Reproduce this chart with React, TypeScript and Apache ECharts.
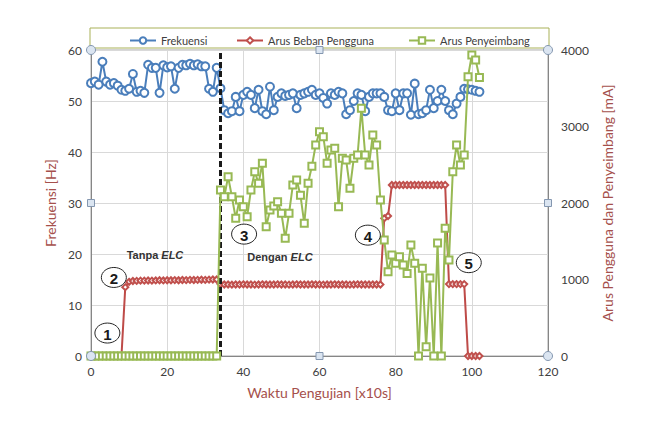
import React, { useEffect, useRef } from "react";
import * as echarts from "echarts";

// Frekuensi [Hz], one reading per 10 s step (index 0..102)
const frekuensi: number[] = [
  53.5, 53.8, 53.2, 57.7, 53.8, 53.2, 53.5, 53.0, 52.2, 52.0,
  52.4, 55.3, 51.8, 52.0, 51.6, 57.1, 56.5, 56.5, 51.6, 57.0,
  56.6, 56.8, 52.4, 56.5, 57.1, 57.0, 57.3, 57.0, 57.2, 56.8,
  56.8, 52.4, 51.8, 56.5, 52.5, 48.2, 47.6, 48.0, 50.8, 48.0,
  51.2, 51.8, 51.2, 48.6, 52.2, 48.0, 47.4, 52.8, 48.2, 50.8,
  51.5, 51.0, 51.2, 51.5, 48.6, 51.2, 51.5, 51.8, 52.2, 51.2,
  51.5, 50.6, 49.5, 51.5, 51.2, 51.8, 51.5, 47.4, 48.2, 50.0,
  51.5, 51.2, 48.0, 50.8, 51.5, 51.5, 51.5, 50.8, 48.2, 48.0,
  51.5, 48.2, 51.5, 51.5, 47.3, 53.4, 47.4, 47.6, 48.2, 52.2,
  48.6, 50.0, 52.2, 50.0, 48.2, 47.4, 49.5, 50.8, 52.4, 52.3,
  52.2, 52.0, 51.8,
];

// Arus Beban Pengguna [mA]
const arusBeban: number[] = [
  0, 0, 0, 0, 0, 0, 0, 0, 0, 900,
  970, 980, 982, 985, 985, 987, 985, 988, 990, 988,
  990, 990, 992, 990, 993, 992, 995, 993, 995, 997,
  995, 998, 1000, 1000, 940, 935, 935, 932, 935, 935,
  937, 935, 935, 933, 935, 937, 935, 935, 935, 937,
  935, 935, 933, 935, 937, 935, 935, 935, 937, 935,
  935, 933, 935, 935, 937, 935, 935, 935, 933, 935,
  937, 935, 935, 935, 935, 935, 935, 1800, 1830, 2235,
  2235, 2235, 2235, 2235, 2235, 2235, 2235, 2235, 2235, 2235,
  2235, 2235, 2235, 2235, 940, 940, 940, 940, 940, 0,
  0, 0, 0,
];

// Arus Penyeimbang [mA]
const arusPenyeimbang: number[] = [
  0, 0, 0, 0, 0, 0, 0, 0, 0, 0,
  0, 0, 0, 0, 0, 0, 0, 0, 0, 0,
  0, 0, 0, 0, 0, 0, 0, 0, 0, 0,
  0, 0, 0, 0, 2170, 2082, 2344, 2082, 1800, 2039,
  1952, 1821, 2170, 2409, 2257, 2519, 1690, 1908, 1960, 2017,
  1865, 1538, 1865, 2235, 2300, 2100, 1734, 2257, 2480, 2758,
  2932, 2867, 2519, 2693, 2715, 1952, 2584, 2562, 2192, 2584,
  2627, 3237, 2627, 2497, 2889, 2758, 2039, 1517, 1102, 1320,
  1212, 1298, 1190, 1080, 1451, 1212, 0, 1146, 122, 1020,
  0, 1477, 0, 1669, 1255, 2409, 2758, 2497, 2627, 3650,
  3935, 3870, 3640,
];

const namaSeri = ["Frekuensi", "Arus Beban Pengguna", "Arus Penyeimbang"];

// Boundary between the runs without and with the ELC
const batasELC = 34;

// Numbered markers and captions, in [waktu, Hz] coordinates
const penanda = [
  { teks: "1", waktu: 4.3, hz: 4.5 },
  { teks: "2", waktu: 6.0, hz: 15.4 },
  { teks: "3", waktu: 40.2, hz: 23.9 },
  { teks: "4", waktu: 72.7, hz: 23.7 },
  { teks: "5", waktu: 99.2, hz: 18.3 },
];
const keterangan = [
  { teks: "Tanpa {i|ELC}", waktu: 16.8, hz: 19.8 },
  { teks: "Dengan {i|ELC}", waktu: 49.6, hz: 19.4 },
];

const GRID = { left: 91, right: 100, top: 50, bottom: 66 };
const W = 648;
const H = 422;
const TITLE_COLOR = "#a5504c";
const LABEL_COLOR = "#404040";
const FONT = "Lato";
const LEGEND_LEFT = [124, 231, 403];

export default function App() {
  const ref = useRef<HTMLDivElement>(null);

  useEffect(() => {
    const chart = echarts.init(ref.current!, null, { renderer: "svg" });
    const pairs = (arr: number[]) => arr.map((v, i) => [i, v]);

    chart.setOption({
      animation: false,
      backgroundColor: "#ffffff",
      textStyle: { fontFamily: FONT },
      grid: { ...GRID, show: true, borderColor: "#a6a6a6", borderWidth: 1 },
      legend: namaSeri.map((nama, i) => ({
        top: 30,
        left: LEGEND_LEFT[i],
        itemWidth: 26,
        itemHeight: 8,
        itemGap: 0,
        textStyle: { fontSize: 11, color: LABEL_COLOR, fontFamily: FONT },
        data: [nama],
      })),
      xAxis: {
        type: "value",
        min: 0,
        max: 120,
        interval: 20,
        name: "Waktu Pengujian [x10s]",
        nameLocation: "middle",
        nameGap: 29,
        nameTextStyle: { color: TITLE_COLOR, fontSize: 14, fontFamily: FONT },
        axisLine: { lineStyle: { color: "#868686" } },
        axisTick: { show: false },
        axisLabel: { color: LABEL_COLOR, fontSize: 12, margin: 9 },
        splitLine: { lineStyle: { color: "#d9d9d9" } },
      },
      yAxis: [
        {
          type: "value",
          min: 0,
          max: 60,
          interval: 10,
          name: "Frekuensi [Hz]",
          nameLocation: "middle",
          nameGap: 14,
          nameRotate: 90,
          nameTextStyle: { color: TITLE_COLOR, fontSize: 14, fontFamily: FONT },
          axisLine: { show: true, lineStyle: { color: "#868686" } },
          axisTick: { show: false },
          axisLabel: { color: LABEL_COLOR, fontSize: 12, margin: 9 },
          splitLine: { lineStyle: { color: "#d9d9d9" } },
        },
        {
          type: "value",
          min: 0,
          max: 4000,
          interval: 1000,
          position: "right",
          name: "Arus Pengguna dan Penyeimbang [mA]",
          nameLocation: "middle",
          nameGap: 52,
          nameRotate: 90,
          nameTextStyle: { color: TITLE_COLOR, fontSize: 14, fontFamily: FONT },
          axisLine: { show: true, lineStyle: { color: "#868686" } },
          axisTick: { show: false },
          axisLabel: {
            color: LABEL_COLOR,
            fontSize: 12,
            margin: 13,
            formatter: (v: number) => String(v),
          },
          splitLine: { show: false },
        },
      ],
      series: [
        {
          name: namaSeri[0],
          type: "line",
          yAxisIndex: 0,
          data: pairs(frekuensi),
          symbol: "emptyCircle",
          symbolSize: 8,
          itemStyle: { color: "#4a7ebb", borderWidth: 1 },
          lineStyle: { color: "#4a7ebb", width: 2 },
          z: 3,
          markLine: {
            silent: true,
            symbol: "none",
            label: { show: false },
            lineStyle: { color: "#1a1a1a", type: [6, 3], width: 3 },
            data: [{ xAxis: batasELC }],
          },
        },
        {
          name: namaSeri[1],
          type: "line",
          yAxisIndex: 1,
          data: pairs(arusBeban),
          symbol: "emptyDiamond",
          symbolSize: 6,
          itemStyle: { color: "#c0504d", borderWidth: 1 },
          lineStyle: { color: "#be4b48", width: 2 },
          z: 4,
        },
        {
          name: namaSeri[2],
          type: "line",
          yAxisIndex: 1,
          data: pairs(arusPenyeimbang),
          symbol: "emptyRect",
          symbolSize: 7,
          itemStyle: { color: "#98b954", borderWidth: 1 },
          lineStyle: { color: "#98b954", width: 2 },
          z: 5,
        },
      ],
    });

    // Annotations and plot-area frame decorations
    const px = (x: number, y: number) =>
      chart.convertToPixel({ xAxisIndex: 0, yAxisIndex: 0 }, [x, y]) as number[];

    const l = GRID.left;
    const r = W - GRID.right;
    const t = GRID.top;
    const b = H - GRID.bottom;
    const mx = (l + r) / 2;
    const my = (t + b) / 2;

    const handleStyle = { fill: "#dbe5f1", stroke: "#8497b0", lineWidth: 1 };
    const circles = [
      [l, t],
      [r, t],
      [l, b],
      [r, b],
    ].map(([cx, cy]) => ({
      type: "circle",
      shape: { cx, cy, r: 4.5 },
      style: handleStyle,
      z: 100,
    }));
    const squares = [
      [mx, t],
      [l, my],
      [r, my],
      [mx, b],
    ].map(([cx, cy]) => ({
      type: "rect",
      shape: { x: cx - 3.5, y: cy - 3.5, width: 7, height: 7 },
      style: handleStyle,
      z: 100,
    }));

    const markers = penanda.flatMap((p) => {
      const [cx, cy] = px(p.waktu, p.hz);
      return [
        {
          type: "ellipse",
          shape: { cx, cy, rx: 12.5, ry: 10 },
          style: { fill: "#ffffff", stroke: "#262626", lineWidth: 1 },
          z: 50,
        },
        {
          type: "text",
          x: cx,
          y: cy + 1,
          style: {
            text: p.teks,
            align: "center",
            verticalAlign: "middle",
            fill: "#1a1a1a",
            font: "bold 15px 'Liberation Sans'",
          },
          z: 51,
        },
      ];
    });

    const captions = keterangan.map((k) => {
      const [cx, cy] = px(k.waktu, k.hz);
      return {
        type: "text",
        x: cx,
        y: cy,
        style: {
          text: k.teks,
          align: "center",
          verticalAlign: "middle",
          fill: "#333333",
          font: "bold 11px 'Liberation Sans'",
          rich: {
            i: {
              fontStyle: "italic",
              fontWeight: "bold",
              fontSize: 11,
              fontFamily: "Liberation Sans",
              fill: "#333333",
            },
          },
        },
        z: 50,
      };
    });

    chart.setOption({
      graphic: [
        {
          type: "rect",
          shape: { x: l - 1, y: 28, width: r - l + 2, height: 20 },
          style: { fill: "none", stroke: "#a9b158", lineWidth: 1 },
          z: 1,
        },
        ...markers,
        ...captions,
        ...circles,
        ...squares,
      ],
    });

    return () => chart.dispose();
  }, []);

  return (
    <div
      ref={ref}
      style={{ position: "fixed", left: 0, top: 0, width: W, height: H, background: "#fff" }}
    />
  );
}
